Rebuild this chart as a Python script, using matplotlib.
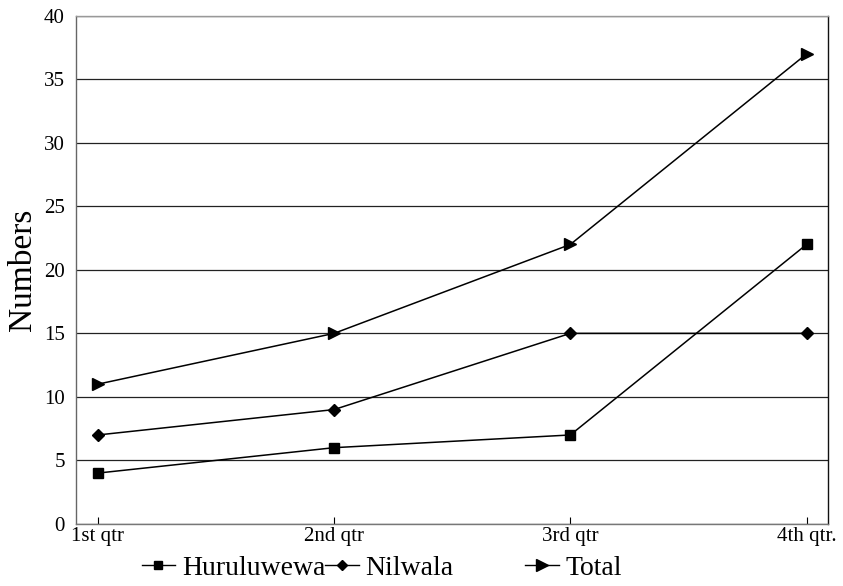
import matplotlib.pyplot as plt
from matplotlib.lines import Line2D

quarters = ["1st qtr", "2nd qtr", "3rd qtr", "4th qtr."]
huruluwewa = [4, 6, 7, 22]
nilwala = [7, 9, 15, 15]
total = [11, 15, 22, 37]

plt.rcParams['font.family'] = ['Liberation Serif', 'DejaVu Serif']

fig = plt.figure(figsize=(8.43, 5.86), dpi=100)
ax = fig.add_axes([0.090, 0.106, 0.892, 0.867])

x = list(range(len(quarters)))
ax.plot(x, huruluwewa, color='black', lw=1.1, marker='s', ms=7)
ax.plot(x, nilwala, color='black', lw=1.1, marker='D', ms=6)
ax.plot(x, total, color='black', lw=1.1, marker='>', ms=9)

ax.set_ylim(0, 40)
ax.set_xlim(-0.093, 3.09)
ax.set_yticks(range(0, 41, 5))
ax.set_xticks(x)
ax.set_xticklabels(quarters, fontsize=15)
ax.tick_params(axis='y', length=0, pad=8, labelsize=15)
ax.tick_params(axis='x', direction='in', length=5, width=0.8, pad=2)

ax.set_axisbelow(True)
ax.yaxis.grid(True, color='#222222', linestyle='-', linewidth=0.9)

for side, col in [('top', '#999999'), ('bottom', '#777777'),
                  ('left', '#666666'), ('right', '#111111')]:
    ax.spines[side].set_color(col)
    ax.spines[side].set_linewidth(1.0)

ax.set_ylabel("Numbers", fontsize=24, labelpad=4)

h1 = Line2D([], [], color='black', lw=1.0, marker='s', ms=6)
h2 = Line2D([], [], color='black', lw=1.0, marker='D', ms=5)
h3 = Line2D([], [], color='black', lw=1.0, marker='>', ms=8)

legend_font = {'family': 'Liberation Serif', 'size': 20}
leg1 = fig.legend([h1, h2], ["Huruluwewa", "Nilwala"], ncol=2,
                  loc='lower left', bbox_to_anchor=(0.145, -0.025),
                  frameon=False, prop=legend_font, handlelength=1.2,
                  handletextpad=0.25, columnspacing=0.0, borderpad=0.2)
leg2 = fig.legend([h3], ["Total"], loc='lower left',
                  bbox_to_anchor=(0.60, -0.025), frameon=False,
                  prop=legend_font, handlelength=1.2, handletextpad=0.25,
                  borderpad=0.2)

fig.savefig("out.png", dpi=100)
